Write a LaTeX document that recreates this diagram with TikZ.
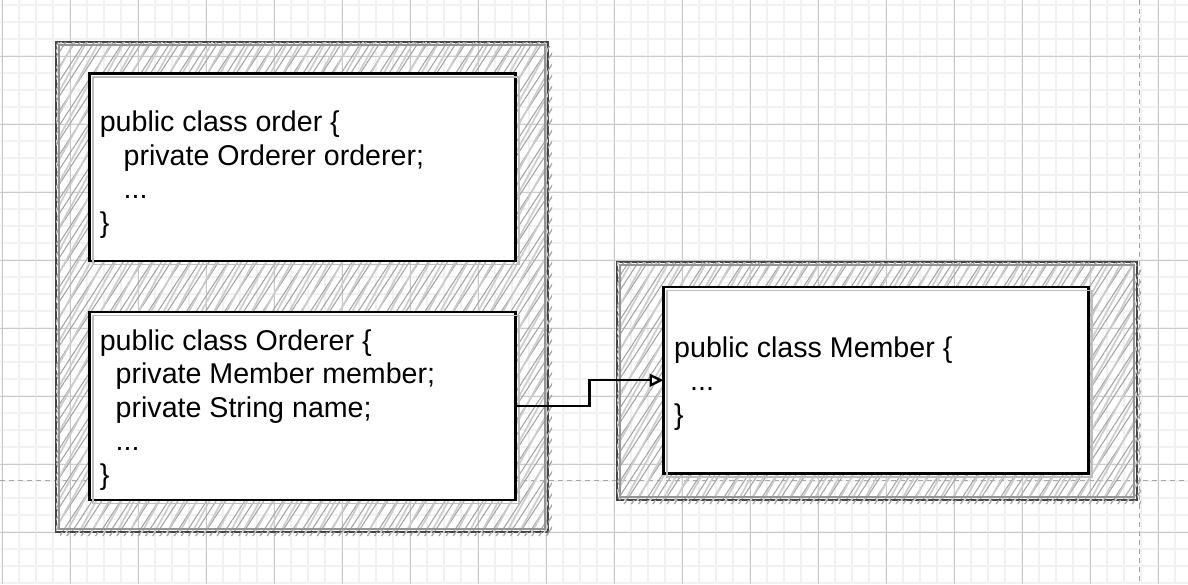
\documentclass[tikz,border=0pt]{standalone}
\usepackage{fontspec}
\setmainfont{Liberation Sans}
\usetikzlibrary{patterns.meta,arrows.meta,calc}
\definecolor{minorgrid}{HTML}{F1F1F1}
\definecolor{majorgrid}{HTML}{CACACA}
\definecolor{dashgrid}{HTML}{A8A8A8}
\definecolor{hatchA}{HTML}{A6A6A6}
\definecolor{hatchB}{HTML}{CCCCCC}
\definecolor{outerline}{HTML}{444444}
\definecolor{innerline}{HTML}{949494}
\definecolor{shadowline}{HTML}{BDBDBD}
\newcommand\codeln[1]{\hbox{#1}}
\tikzset{
  minorline/.style={draw=minorgrid, line width=1.7pt},
  majorline/.style={draw=majorgrid, line width=1pt},
  guideline/.style={draw=dashgrid, line width=1.3pt, dash pattern=on 5pt off 4pt},
  hatchbox/.style={rectangle, draw=outerline, line width=2.3pt, inner sep=0pt, outer sep=0pt,
    pattern={Lines[angle=57,distance=8pt,line width=1.1pt]}, pattern color=hatchA,
    postaction={pattern={Lines[angle=61,distance=11pt,line width=1.7pt]}, pattern color=hatchB}},
  hatchshadow/.style={even odd rule, pattern={Lines[angle=57,distance=6pt,line width=1.3pt]}, pattern color=hatchA},
  secondstroke/.style={draw=innerline, line width=1.4pt},
  classbox/.style={rectangle, draw=black, line width=2.8pt, fill=white, inner sep=0pt, outer sep=0pt},
  classshadow/.style={draw=shadowline, line width=1.8pt},
  codetext/.style={inner sep=0pt, outer sep=0pt, anchor=base west, font=\fontsize{28.6}{33.5}\selectfont},
  linkarrow/.style={draw=black, line width=2.4pt, -{Triangle[length=14pt,width=13pt,fill=white]}}
}
\begin{document}
\begin{tikzpicture}[x=1pt,y=-1pt]
\useasboundingbox (0,0) rectangle (1188,584);
\fill[white] (0,0) rectangle (1188,584);
% grid
\begin{scope}
\clip (0,0) rectangle (1188,584);
\foreach \i in {0,...,69} \draw[minorline] ({2.3+17*\i},0) -- ({2.3+17*\i},584);
\foreach \j in {0,...,34} \draw[minorline] (0,{5.3+17*\j}) -- (1188,{5.3+17*\j});
\foreach \i in {0,...,17} \draw[majorline] ({2.3+68*\i},0) -- ({2.3+68*\i},584);
\foreach \j in {0,...,7} \draw[majorline] (0,{56.3+68*\j}) -- (1188,{56.3+68*\j});
\draw[guideline] (0,480.7) -- (1188,480.7);
\draw[guideline] (1139.3,0) -- (1139.3,584);
\end{scope}
% outer hatched containers
\node[hatchbox, minimum width=492pt, minimum height=490pt] (L) at (302,287) {};
\node[hatchbox, minimum width=520pt, minimum height=238pt] (R) at (877,381) {};
\path[hatchshadow] ([shift={(4,4)}]L.north west) rectangle ([shift={(4,4)}]L.south east)
  (L.north west) rectangle (L.south east);
\path[hatchshadow] ([shift={(4,4)}]R.north west) rectangle ([shift={(4,4)}]R.south east)
  (R.north west) rectangle (R.south east);
\draw[secondstroke] ([shift={(3,3)}]L.north west) rectangle ([shift={(-3,-3)}]L.south east);
\draw[secondstroke] ([shift={(3,3)}]R.north west) rectangle ([shift={(-3,-3)}]R.south east);
% class boxes
\node[classbox, minimum width=426pt, minimum height=187.5pt] (A) at (302.5,167.25) {};
\node[classbox, minimum width=426pt, minimum height=188pt] (B) at (302.5,406) {};
\node[classbox, minimum width=425pt, minimum height=186.5pt] (C) at (876,380.25) {};
\foreach \b in {A,B,C}
  \draw[classshadow] ([shift={(3.5,3.5)}]\b.north west) rectangle ([shift={(3.5,3.5)}]\b.south east);
% texts
\node[codetext] (tA) at (99.8,131.7) {\vtop{%
  \codeln{public class order \{}%
  \codeln{\ \ \ private Orderer orderer;}%
  \codeln{\ \ \ ...}%
  \codeln{\}}}};
\node[codetext] (tB) at (99.8,350) {\vtop{%
  \codeln{public class Orderer \{}%
  \codeln{\ \ private Member member;}%
  \codeln{\ \ private String name;}%
  \codeln{\ \ ...}%
  \codeln{\}}}};
\node[codetext] (tC) at (674.2,357.3) {\vtop{%
  \codeln{public class Member \{}%
  \codeln{\ \ ...}%
  \codeln{\}}}};
% connector
\coordinate (mid) at ($(B.east)!0.5!(C.west)$);
\draw[linkarrow] (B.east) -| (mid) |- (C.west);
\end{tikzpicture}
\end{document}
